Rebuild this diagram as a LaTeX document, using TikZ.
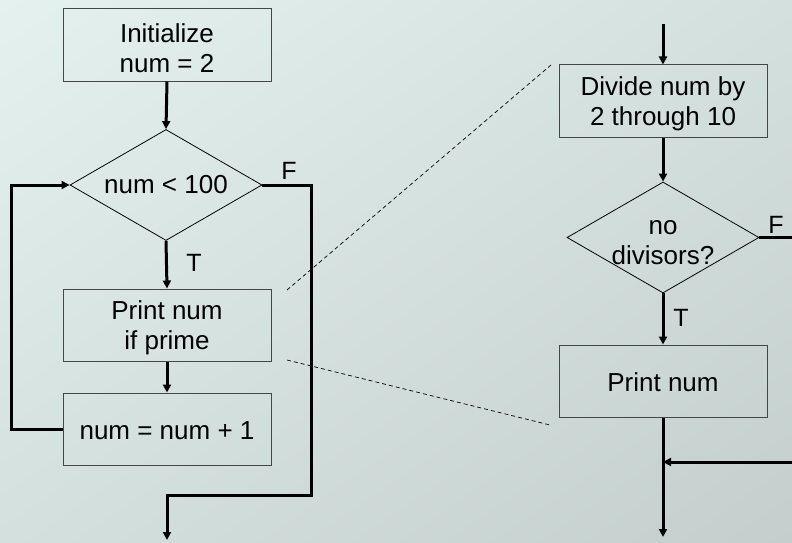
\documentclass[tikz,border=0pt]{standalone}
\usepackage{fontspec}
\setmainfont{Liberation Sans}
\usetikzlibrary{arrows.meta,shapes.geometric,shadings}
\definecolor{bgA}{RGB}{229,241,238}
\definecolor{bgM}{RGB}{212,224,221}
\definecolor{bgB}{RGB}{196,207,205}
\definecolor{boxline}{RGB}{70,70,70}
\tikzset{
  txt/.style={font=\fontsize{26}{26}\selectfont, align=center, inner sep=0pt},
  procbox/.style={draw=boxline, line width=1pt, minimum width=208pt, minimum height=72pt, inner sep=0pt},
  decbox/.style={diamond, draw=black, line width=0.8pt, minimum width=192pt, minimum height=111pt, inner sep=0pt, aspect=1.73},
  flow/.style={line width=3pt, -{Triangle[length=8pt,width=8pt]}},
  flowline/.style={line width=3pt},
  zoomline/.style={dashed, line width=0.7pt, dash pattern=on 4pt off 3pt},
  lbl/.style={font=\fontsize{25}{28}\selectfont, inner sep=0pt}
}
\begin{document}
\begin{tikzpicture}[x=1pt,y=-1pt]
\useasboundingbox (0,0) rectangle (792,543);
\shade[upper left=bgA, upper right=bgM, lower left=bgM, lower right=bgB] (0,0) rectangle (792,543);

% left flowchart
\node[procbox] (init) at (167,45) {};
\node[txt] at (167,48) {Initialize\\[4pt]num = 2};
\node[decbox] (d1) at (166,185) {};
\node[txt] at (d1) {num < 100};
\node[procbox] (pr) at (167,325) {};
\node[txt] at (167,328) {Print num\\[4pt]if prime};
\node[procbox] (inc) at (167,429) {};
\node[txt] at (167,430.5) {num = num + 1};

\draw[flow] (init.south) -- (d1.north);
\draw[flow] (d1.south) -- (pr.north);
\draw[flow] (pr.south) -- (inc.north);
\coordinate (lpA) at (11,429);
\coordinate (lpB) at (11,185);
\draw[flow] (inc.west) -- (lpA) -- (lpB) -- (d1.west);
\coordinate (fA) at (311,185);
\coordinate (fB) at (311,495);
\coordinate (fC) at (167,495);
\coordinate (fD) at (167,540);
\draw[flow] (d1.east) -- (fA) -- (fB) -- (fC) -- (fD);
\node[lbl] (F1) at (289,171) {F};
\node[lbl] (T1) at (194,263) {T};

% right flowchart
\coordinate (rin) at (663,24);
\node[procbox] (div) at (663,101) {};
\node[txt] at (663,104) {Divide num by\\[4pt]2 through 10};
\node[decbox] (d2) at (663,237.5) {};
\node[txt] at (663,243) {no\\[4pt]divisors?};
\node[procbox] (pn) at (663,381) {};
\node[txt] at (663,382) {Print num};
\draw[flow] (rin) -- (div.north);
\draw[flow] (div.south) -- (d2.north);
\draw[flow] (d2.south) -- (pn.north);
\coordinate (rF) at (793,237.5);
\draw[flowline] (d2.east) -- (rF);
\coordinate (rM) at (663,462);
\coordinate (rR) at (793,462);
\coordinate (rOut) at (663,537);
\draw[flow] (pn.south) -- (rOut);
\draw[flow] (rR) -- (rM);
\node[lbl] (F2) at (776,225) {F};
\node[lbl] (T2) at (681,318) {T};

% zoom lines
\coordinate (z1a) at (287,290);
\coordinate (z1b) at (551,65);
\coordinate (z2a) at (287,360);
\coordinate (z2b) at (550,425);
\draw[zoomline] (z1a) -- (z1b);
\draw[zoomline] (z2a) -- (z2b);
\end{tikzpicture}
\end{document}
